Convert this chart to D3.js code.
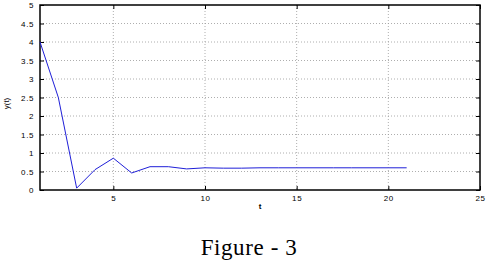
<!DOCTYPE html>
<head>
  <script src="https://cdn.jsdelivr.net/npm/d3@7"></script>
</head>
<style>
  body { margin: 0; background: #fff; }
  .tick text { font-family: "Liberation Sans", sans-serif; font-size: 8px; letter-spacing: 0.6px; }
  .grid line { stroke: #999; stroke-dasharray: 1,2; stroke-width: 0.8; }
</style>
<body>
<script>
  // samples of the response
  var tValues = [1, 2, 3, 4, 5, 6, 7, 8, 9, 10, 11, 12, 13, 14, 15, 16, 17, 18, 19, 20, 21];
  var yValues = [4.0, 2.5, 0.05, 0.55, 0.86, 0.46, 0.63, 0.63, 0.57, 0.6, 0.59, 0.59, 0.6, 0.6, 0.6, 0.6, 0.6, 0.6, 0.6, 0.6, 0.6];
  var xTicks = [5, 10, 15, 20, 25];
  var yTicks = [0, 0.5, 1, 1.5, 2, 2.5, 3, 3.5, 4, 4.5, 5];

  var width = 492, height = 262;
  var plotLeft = 40, plotRight = 480, plotTop = 5, plotBottom = 190;

  var svg = d3.select("body").append("svg")
    .attr("width", width)
    .attr("height", height);

  var xScale = d3.scaleLinear().domain([1, 25]).range([plotLeft, plotRight]);
  var yScale = d3.scaleLinear().domain([0, 5]).range([plotBottom, plotTop]);

  // grid
  var grid = svg.append("g").attr("class", "grid");
  grid.selectAll(".gx").data(xTicks.filter(function(d) { return d < 25; }))
    .enter().append("line")
    .attr("x1", function(d) { return xScale(d); })
    .attr("x2", function(d) { return xScale(d); })
    .attr("y1", plotTop).attr("y2", plotBottom);
  grid.selectAll(".gy").data(yTicks.filter(function(d) { return d > 0 && d < 5; }))
    .enter().append("line")
    .attr("x1", plotLeft).attr("x2", plotRight)
    .attr("y1", function(d) { return yScale(d); })
    .attr("y2", function(d) { return yScale(d); });

  // axes with inward ticks
  var fmt = d3.format("~g");
  var xAxis = d3.axisBottom(xScale).tickValues(xTicks).tickFormat(fmt).tickSizeInner(-4).tickSizeOuter(0).tickPadding(5);
  var yAxis = d3.axisLeft(yScale).tickValues(yTicks).tickFormat(fmt).tickSizeInner(-4).tickSizeOuter(0).tickPadding(6);

  svg.append("g").attr("transform", "translate(0," + plotBottom + ")").call(xAxis);
  svg.append("g").attr("transform", "translate(" + plotLeft + ",0)").call(yAxis);
  svg.append("g").attr("transform", "translate(0," + plotTop + ")")
    .call(d3.axisTop(xScale).tickValues(xTicks).tickSizeInner(-4).tickSizeOuter(0).tickFormat(""));
  svg.append("g").attr("transform", "translate(" + plotRight + ",0)")
    .call(d3.axisRight(yScale).tickValues(yTicks).tickSizeInner(-4).tickSizeOuter(0).tickFormat(""));

  svg.selectAll(".domain").remove();
  svg.selectAll(".tick line").attr("stroke", "#000");

  svg.append("rect")
    .attr("x", plotLeft).attr("y", plotTop)
    .attr("width", plotRight - plotLeft).attr("height", plotBottom - plotTop)
    .attr("fill", "none").attr("stroke", "#000").attr("stroke-width", 1.5);

  // the series
  var line = d3.line()
    .x(function(d, i) { return xScale(tValues[i]); })
    .y(function(d) { return yScale(d); });

  svg.append("path")
    .datum(yValues)
    .attr("d", line)
    .attr("fill", "none")
    .attr("stroke", "#1f1fd8")
    .attr("stroke-width", 1);

  // labels
  svg.append("text")
    .attr("x", xScale(13)).attr("y", 209)
    .attr("text-anchor", "middle")
    .style("font-family", "Liberation Sans, sans-serif")
    .style("font-size", "8px").style("font-weight", "bold")
    .text("t");

  svg.append("text")
    .attr("transform", "translate(9," + (yScale(2.5) + 6) + ") rotate(-90)")
    .attr("text-anchor", "middle")
    .style("font-family", "Liberation Sans, sans-serif")
    .style("font-size", "8px")
    .text("y(t)");

  svg.append("text")
    .attr("x", 249).attr("y", 255)
    .attr("text-anchor", "middle")
    .style("font-family", "Liberation Serif, serif")
    .style("font-size", "23px")
    .style("letter-spacing", "0.6px")
    .text("Figure - 3");
</script>
</body>
